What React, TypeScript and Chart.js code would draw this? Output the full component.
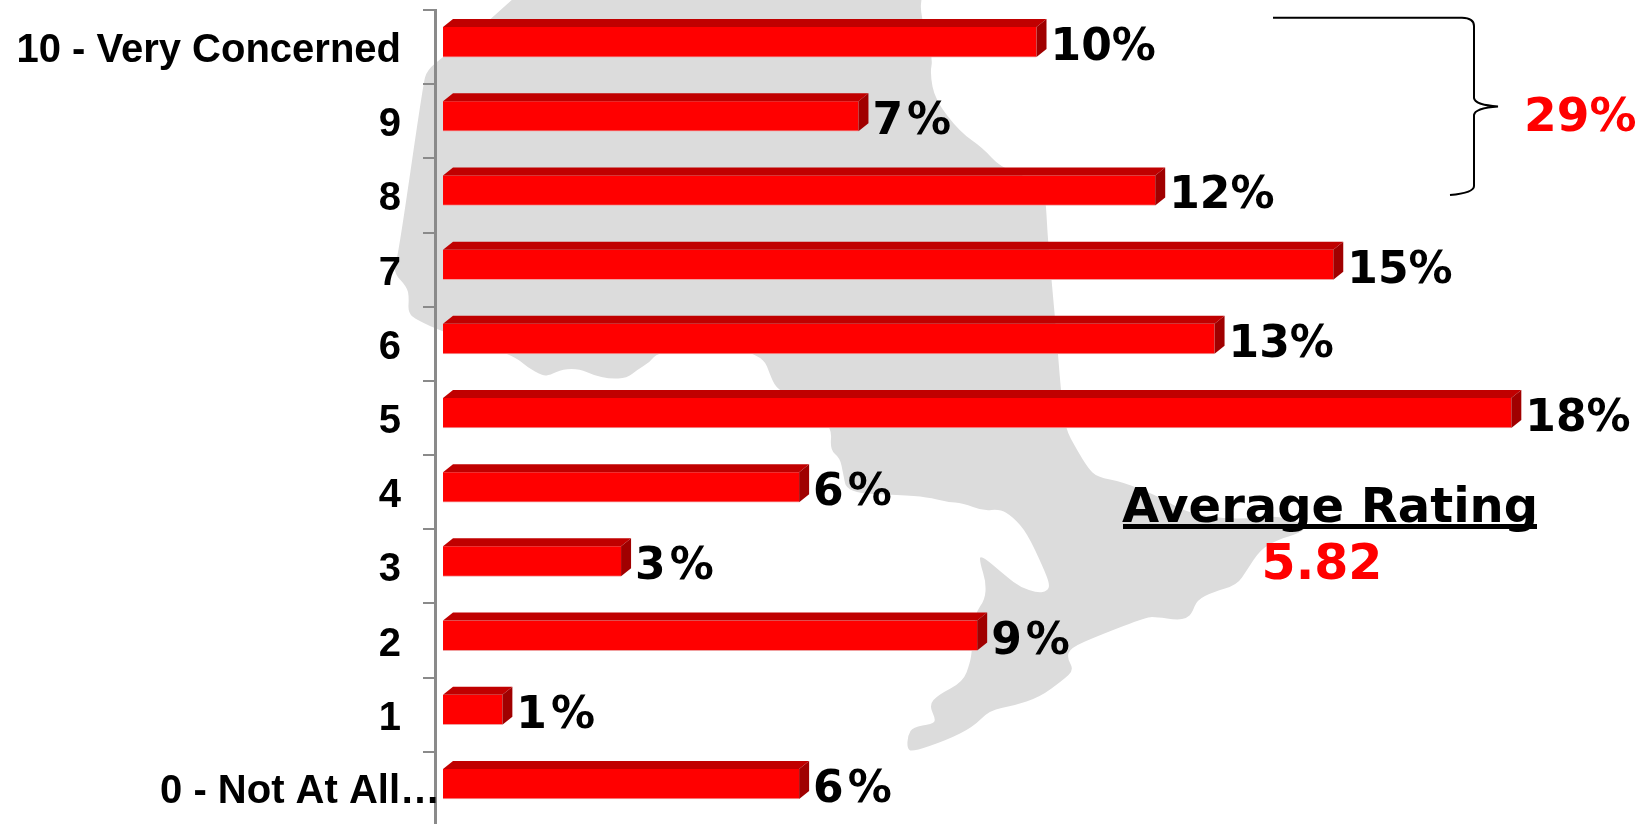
import React, { useEffect, useRef } from "react";
import { Chart, registerables } from "chart.js";

Chart.register(...registerables);

const categories = ["10 - Very Concerned", "9", "8", "7", "6", "5", "4", "3", "2", "1", "0 - Not At All…"];
const shares = [10, 7, 12, 15, 13, 18, 6, 3, 9, 1, 6];
const bracketTotal = "29%";
const averageTitle = "Average Rating";
const averageValue = "5.82";

const mapOutline: number[][] = [
  [517, -5], [493, 18], [443, 57], [427, 70], [423, 85], [398, 257], [393, 272], [407, 287], [409, 297], [408, 313],
  [417, 320], [443, 332], [513, 355], [527, 367], [543, 376], [550, 375], [563, 369], [580, 369], [593, 375], [610, 379],
  [627, 378], [637, 370], [650, 362], [657, 353], [700, 345], [762, 353], [772, 380], [777, 388], [782, 391], [815, 410],
  [832, 428], [830, 450], [840, 458], [843, 473], [847, 493], [900, 495], [927, 497], [947, 502], [963, 503], [983, 511],
  [1000, 509], [1013, 517], [1027, 533], [1043, 567], [1050, 585], [1047, 591], [1038, 593], [1020, 587], [1007, 577],
  [980, 554], [980, 563], [986, 582], [985, 600], [975, 613], [972, 650], [970, 663], [963, 682], [938, 695], [929, 705],
  [936, 720], [932, 724], [913, 727], [908, 735], [907, 748], [912, 752], [947, 740], [973, 727], [990, 710], [1013, 706],
  [1040, 697], [1063, 680], [1074, 670], [1067, 658], [1070, 648], [1100, 635], [1147, 617], [1157, 617], [1177, 620],
  [1187, 618], [1192, 613], [1197, 600], [1213, 592], [1237, 585], [1247, 570], [1260, 550], [1277, 540], [1300, 533],
  [1307, 526], [1280, 515], [1233, 520], [1187, 513], [1160, 497], [1123, 482], [1097, 477], [1088, 468], [1077, 450],
  [1065, 428], [1061, 392], [1055, 317], [1048, 242], [1046, 205], [1044, 190], [1030, 178], [1000, 167], [983, 148], [960, 132], [935, 100],
  [930, 73], [933, 58], [920, 13], [922, -5],
];

const RED = "#ff0000";
const TOP_FACE = "#c00000";
const SIDE_FACE = "#a00000";
const DEPTH_X = 10;
const DEPTH_Y = 8;
const LIFT = 5;
const VALUE_FONT = 'bold 44px "DejaVu Sans"';
const AXIS_FONT = 'bold 40px "Liberation Sans"';

const decorations = {
  id: "decorations",
  beforeDraw(chart: any) {
    const ctx = chart.ctx;
    ctx.save();
    ctx.fillStyle = "#dcdcdc";
    ctx.beginPath();
    mapOutline.forEach((p, i) => {
      if (i === 0) ctx.moveTo(p[0], p[1]);
      else {
        const next = mapOutline[i + 1];
        if (next) ctx.quadraticCurveTo(p[0], p[1], (p[0] + next[0]) / 2, (p[1] + next[1]) / 2);
        else ctx.lineTo(p[0], p[1]);
      }
    });
    ctx.closePath();
    ctx.fill();
    ctx.restore();
  },
  beforeDatasetsDraw(chart: any) {
    chart.ctx.save();
    chart.ctx.translate(0, -LIFT);
  },
  afterDatasetsDraw(chart: any) {
    const ctx = chart.ctx;
    chart.getDatasetMeta(0).data.forEach((bar: any) => {
      const top = bar.y - bar.height / 2;
      const bottom = bar.y + bar.height / 2;
      ctx.fillStyle = TOP_FACE;
      ctx.beginPath();
      ctx.moveTo(bar.base, top);
      ctx.lineTo(bar.base + DEPTH_X, top - DEPTH_Y);
      ctx.lineTo(bar.x + DEPTH_X, top - DEPTH_Y);
      ctx.lineTo(bar.x, top);
      ctx.closePath();
      ctx.fill();
      ctx.fillStyle = SIDE_FACE;
      ctx.beginPath();
      ctx.moveTo(bar.x, top);
      ctx.lineTo(bar.x + DEPTH_X, top - DEPTH_Y);
      ctx.lineTo(bar.x + DEPTH_X, bottom - DEPTH_Y);
      ctx.lineTo(bar.x, bottom);
      ctx.closePath();
      ctx.fill();
    });
    ctx.restore();
  },
  afterDraw(chart: any) {
    const ctx = chart.ctx;
    ctx.save();
    ctx.textBaseline = "alphabetic";
    ctx.textAlign = "left";
    ctx.fillStyle = "#000";
    ctx.font = VALUE_FONT;
    chart.getDatasetMeta(0).data.forEach((bar: any, i: number) => {
      ctx.letterSpacing = shares[i] < 10 ? "4px" : "0px";
      ctx.fillText(`${shares[i]}%`, bar.x + 14, bar.y + 13);
    });
    ctx.letterSpacing = "0px";

    const yScale = chart.scales.y;
    ctx.font = AXIS_FONT;
    ctx.textAlign = "right";
    ctx.fillText(categories[categories.length - 1], 440, yScale.getPixelForValue(categories.length - 1) + 14);

    ctx.strokeStyle = "#000";
    ctx.lineWidth = 2;
    ctx.beginPath();
    ctx.moveTo(1273, 17.7);
    ctx.lineTo(1462, 17.7);
    ctx.quadraticCurveTo(1474, 18, 1474, 26);
    ctx.lineTo(1474, 98);
    ctx.quadraticCurveTo(1475, 105, 1498, 106.5);
    ctx.quadraticCurveTo(1475, 108, 1474, 115);
    ctx.lineTo(1474, 186);
    ctx.quadraticCurveTo(1474, 193, 1450, 195);
    ctx.stroke();

    ctx.textAlign = "left";
    ctx.fillStyle = RED;
    ctx.font = 'bold 47px "DejaVu Sans"';
    ctx.fillText(bracketTotal, 1524, 131);

    ctx.textAlign = "center";
    ctx.fillStyle = "#000";
    ctx.font = 'bold 48px "DejaVu Sans"';
    ctx.fillText(averageTitle, 1330, 522);
    ctx.fillRect(1123, 524, 414, 5);
    ctx.fillStyle = RED;
    ctx.font = 'bold 49px "DejaVu Sans"';
    ctx.fillText(averageValue, 1322, 579);
    ctx.restore();
  },
};

export default function App() {
  const ref = useRef<HTMLCanvasElement>(null);
  useEffect(() => {
    const chart = new Chart(ref.current!, {
      type: "bar",
      data: {
        labels: categories,
        datasets: [
          {
            data: shares,
            backgroundColor: RED,
            borderColor: "#f0a0a0",
            borderWidth: { top: 0, left: 0, right: 0, bottom: 1 },
            borderSkipped: false,
            barThickness: 30,
          },
        ],
      },
      options: {
        indexAxis: "y",
        animation: false,
        responsive: false,
        layout: { autoPadding: false, padding: { top: 10, bottom: 4, left: 0, right: 0 } },
        plugins: { legend: { display: false }, tooltip: { enabled: false } },
        scales: {
          x: { display: false, min: -0.135, max: 20.202 },
          y: {
            afterFit(scale: any) {
              scale.width = 435;
              scale.paddingTop = 0;
              scale.paddingBottom = 0;
            },
            grid: { offset: true, drawOnChartArea: false, drawTicks: true, tickLength: 12, color: "#8a8a8a", lineWidth: 2 },
            border: { color: "#8a8a8a", width: 3 },
            ticks: {
              autoSkip: false,
              color: "#000",
              padding: 22,
              labelOffset: 4,
              font: { family: '"Liberation Sans"', size: 40, weight: "bold" },
              callback: (_v: any, i: number) => (i === categories.length - 1 ? "" : categories[i]),
            },
          },
        },
      },
      plugins: [decorations],
    } as any);
    return () => chart.destroy();
  }, []);
  return (
    <div style={{ position: "fixed", left: 0, top: 0, width: 1642, height: 824, overflow: "hidden", background: "#fff" }}>
      <canvas ref={ref} width={1642} height={830} style={{ display: "block" }} />
    </div>
  );
}
